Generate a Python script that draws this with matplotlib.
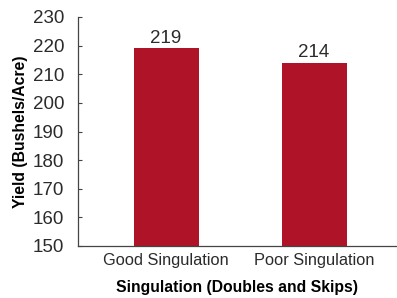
import matplotlib.pyplot as plt

# Data
categories = ["Good Singulation", "Poor Singulation"]
yields = [219, 214]
y_ticks = [150, 160, 170, 180, 190, 200, 210, 220, 230]

bar_color = "#AE1328"
text_color = "#2b2b2b"

plt.rcParams['font.family'] = ['Liberation Sans', 'DejaVu Sans']

fig = plt.figure(figsize=(3.97, 2.98), dpi=100)
# axes placed in pixel terms: left spine x=78, bottom y=246, top y=17, right edge 397
ax = fig.add_axes([78 / 397, (298 - 246) / 298, (397 - 78) / 397, (246 - 17) / 298])

x = [0, 1]
ax.bar(x, yields, width=0.44, color=bar_color, zorder=2)
for xi, v in zip(x, yields):
    ax.text(xi, v + 0.6, f"{v}", ha="center", va="bottom", fontsize=13.5, color=text_color)

ax.set_ylim(150, 230)
ax.set_xlim(-0.595, 1.56)
ax.set_yticks(y_ticks)
ax.set_xticks(x)
ax.set_xticklabels(categories)

ax.tick_params(axis="y", direction="in", length=3, width=0.8, color="#444444",
               labelsize=13.5, labelcolor=text_color, pad=10)
ax.tick_params(axis="x", length=0, labelsize=11.8, labelcolor=text_color, pad=5)

for side in ["top", "right"]:
    ax.spines[side].set_visible(False)
for side in ["left", "bottom"]:
    ax.spines[side].set_color("#444444")
    ax.spines[side].set_linewidth(0.9)

ax.set_xlabel("Singulation (Doubles and Skips)", fontsize=11.3, fontweight="bold",
              color="black", labelpad=9)
ax.set_ylabel("Yield (Bushels/Acre)", fontsize=11.3, fontweight="bold",
              color="black", labelpad=3)

fig.savefig("out.png", dpi=100)
